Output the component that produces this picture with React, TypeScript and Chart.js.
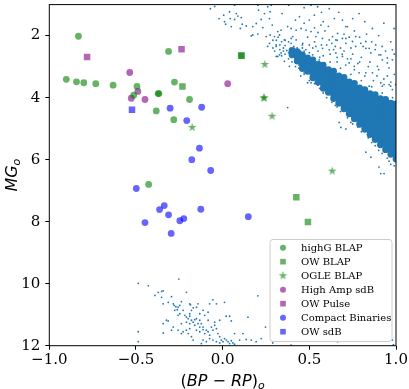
import React, { useEffect, useRef } from "react";
import { Chart, registerables } from "chart.js";
Chart.register(...registerables);

// ---- axes ----
const xTicks = [-1, -0.5, 0, 0.5, 1];
const yTicks = [2, 4, 6, 8, 10, 12];
const xRange = [-1, 1];
const yRange = [1, 12];

// ---- labelled samples ----
const seriesLabels = ["highG BLAP", "OW BLAP", "OGLE BLAP", "High Amp sdB", "OW Pulse", "Compact Binaries", "OW sdB"];

const highGBlapX = [-0.832, -0.902, -0.843, -0.801, -0.732, -0.632, -0.494, -0.513, -0.372, -0.368, -0.383, -0.312, -0.278, -0.282, -0.191, -0.427];
const highGBlapY = [2.02, 3.41, 3.49, 3.52, 3.55, 3.60, 3.64, 3.92, 3.87, 3.87, 4.43, 2.51, 3.50, 4.71, 4.06, 6.80];

const owBlapX = [-0.232, 0.107, 0.109, 0.425, 0.492];
const owBlapY = [3.64, 2.64, 2.65, 7.21, 8.01];

const ogleBlapX = [-0.176, 0.243, 0.238, 0.239, 0.285, 0.632];
const ogleBlapY = [4.96, 2.93, 4.01, 4.01, 4.60, 6.37];

const highAmpX = [-0.536, -0.527, -0.489, -0.448, 0.029];
const highAmpY = [3.19, 4.02, 3.80, 4.06, 3.55];

const owPulseX = [-0.782, -0.237];
const owPulseY = [2.69, 2.44];

const compactX = [-0.303, -0.207, -0.121, -0.134, -0.178, -0.498, -0.069, -0.448, -0.364, -0.337, -0.312, -0.297, -0.247, -0.224, -0.126, 0.148];
const compactY = [4.34, 4.74, 4.31, 5.63, 6.00, 6.93, 6.35, 8.03, 7.61, 7.48, 7.78, 8.38, 7.97, 7.90, 7.60, 7.84];

const owSdbX = [-0.523];
const owSdbY = [4.39];

// ---- Gaia background: dense main-sequence core (columns) ----
const msCoreCols: [number, number[]][] = [
  [0.40, [2.48, 2.62]],
  [0.43, [2.52, 2.68, 2.82]],
  [0.46, [2.62, 2.77, 2.92, 3.06]],
  [0.49, [2.72, 2.87, 3.02, 3.15]],
  [0.52, [2.78, 2.93, 3.08, 3.23, 3.36]],
  [0.55, [2.92, 3.07, 3.22, 3.37, 3.50]],
  [0.58, [2.95, 3.10, 3.25, 3.40, 3.55, 3.70]],
  [0.61, [3.10, 3.25, 3.40, 3.55, 3.70, 3.83]],
  [0.64, [3.15, 3.30, 3.45, 3.60, 3.75, 3.90, 4.03]],
  [0.67, [3.30, 3.45, 3.60, 3.75, 3.90, 4.05, 4.18]],
  [0.70, [3.35, 3.50, 3.65, 3.80, 3.95, 4.10, 4.25, 4.36]],
  [0.73, [3.49, 3.64, 3.79, 3.94, 4.09, 4.24, 4.39, 4.52]],
  [0.76, [3.54, 3.69, 3.84, 3.99, 4.14, 4.29, 4.44, 4.59, 4.68]],
  [0.79, [3.69, 3.84, 3.99, 4.14, 4.29, 4.44, 4.59, 4.74, 4.86]],
  [0.82, [3.74, 3.89, 4.04, 4.19, 4.34, 4.49, 4.64, 4.79, 4.94, 5.02]],
  [0.85, [3.87, 4.02, 4.17, 4.32, 4.47, 4.62, 4.77, 4.92, 5.07, 5.19]],
  [0.88, [3.90, 4.05, 4.20, 4.35, 4.50, 4.65, 4.80, 4.95, 5.10, 5.25, 5.35]],
  [0.91, [4.03, 4.18, 4.33, 4.48, 4.63, 4.78, 4.93, 5.08, 5.23, 5.38, 5.52]],
  [0.94, [4.06, 4.21, 4.36, 4.51, 4.66, 4.81, 4.96, 5.11, 5.26, 5.41, 5.56, 5.68]],
  [0.97, [4.18, 4.33, 4.48, 4.63, 4.78, 4.93, 5.08, 5.23, 5.38, 5.53, 5.68, 5.83]],
  [1.00, [4.20, 4.35, 4.50, 4.65, 4.80, 4.95, 5.10, 5.25, 5.40, 5.55, 5.70, 5.85, 5.98]],
];

// ---- Gaia background: sparse main-sequence stars ----
const msField: [number, number][] = [
  [-0.071, 1.13], [-0.046, 1.06], [-0.021, 1.45], [0.006, 1.34], [0.011, 1.55], [0.017, 1.63], [0.04, 1.23], [0.044, 1.45],
  [0.05, 1.71], [0.069, 1.48], [0.079, 1.29], [0.088, 1.37], [0.107, 1.42], [0.113, 1.63], [0.102, 1.77], [0.136, 1.69],
  [0.165, 2.01], [0.174, 1.71], [0.194, 1.61], [0.203, 1.02], [0.203, 1.95], [0.222, 1.48], [0.232, 1.74], [0.241, 1.29],
  [0.26, 1.07], [0.274, 1.23], [0.27, 1.45], [0.286, 1.66], [0.274, 1.98], [0.299, 2.03], [0.318, 1.87], [0.337, 1.82],
  [0.343, 1.29], [0.356, 2.14], [0.375, 1.71], [0.381, 1.02], [0.395, 2.25], [0.404, 2.03], [0.414, 2.46], [0.337, 2.56],
  [0.309, 2.35], [0.27, 2.25], [0.318, 2.67], [0.328, 1.98],
  [0.395, 1.77], [0.424, 1.82], [0.452, 1.77], [0.481, 1.82], [0.51, 1.87], [0.538, 2.03], [0.567, 1.66], [0.576, 2.09],
  [0.615, 2.14], [0.634, 2.03], [0.663, 1.93], [0.691, 2.09], [0.72, 1.71], [0.711, 2.25], [0.749, 2.19], [0.768, 2.35],
  [0.797, 2.25], [0.826, 2.41], [0.864, 1.77], [0.855, 2.56], [0.883, 2.30], [0.902, 2.62], [0.921, 2.78], [0.95, 2.72],
  [0.979, 2.78], [0.96, 3.04], [0.893, 2.99], [0.864, 3.2], [0.826, 3.2], [0.787, 3.2], [0.759, 2.99], [0.73, 2.88],
  [0.691, 2.67], [0.653, 2.56], [0.615, 2.46], [0.576, 2.41], [0.538, 2.35], [0.5, 2.3], [0.462, 2.25], [0.424, 2.14],
  [0.395, 2.09], [0.404, 2.56], [0.443, 2.67], [0.481, 2.78], [0.414, 2.41], [0.519, 2.62], [0.557, 2.78], [0.845, 3.63],
  [0.921, 3.63], [0.96, 3.58], [0.979, 3.74], [0.883, 4.11], [0.941, 4.37], [0.96, 4.59], [0.979, 4.8], [0.672, 4.8],
  [0.711, 5.01], [0.644, 4.06], [0.576, 3.74], [0.51, 3.52],
  [0.375, 4.32], [0.682, 4.96], [0.826, 5.76], [0.855, 5.92], [0.902, 6.24], [0.931, 6.45], [0.912, 6.45], [0.826, 2.19],
  [0.845, 2.41], [0.912, 2.62], [0.95, 2.88], [0.979, 2.46], [0.989, 1.77], [0.768, 2.03], [0.711, 2.09], [0.653, 2.14],
  [0.787, 1.29], [0.691, 1.5], [0.644, 1.45], [0.615, 1.13], [0.548, 1.07], [0.51, 1.02], [0.443, 1.39], [0.529, 1.34],
  [0.58, 1.55], [0.711, 1.71], [0.998, 3.58], [0.969, 3.63], [0.931, 3.58], [0.912, 3.52], [0.28, 1.02], [0.069, 1.02],
  [0.207, 1.18], [0.251, 2.03], [0.174, 1.98], [0.26, 2.35], [0.309, 2.30], [0.328, 2.62], [0.356, 2.83], [0.385, 2.99],
  [0.309, 2.67], [0.49, 3.52],
  [0.45, 3.3], [0.5, 3.45], [0.56, 3.7], [0.6, 4.0], [0.66, 4.3], [0.72, 4.65], [0.78, 4.95], [0.84, 5.3], [0.9, 5.7],
  [0.96, 6.05], [0.99, 6.2], [0.5, 2.55], [0.56, 2.7], [0.62, 2.85], [0.68, 3.05], [0.74, 3.25], [0.8, 3.45], [0.86, 3.65],
  [0.92, 3.85], [0.98, 4.0], [0.35, 2.4], [0.38, 2.55], [0.4, 2.7], [0.42, 2.85], [0.44, 2.95], [0.36, 2.6], [0.41, 2.35],
  [0.43, 2.6], [0.45, 2.5], [0.33, 2.3], [0.38, 2.2], [0.46, 2.4], [0.39, 2.45], [0.6, 2.3], [0.65, 2.35], [0.7, 2.5],
  [0.75, 2.6], [0.8, 2.7], [0.85, 2.85], [0.9, 3.1], [0.95, 3.3], [0.72, 2.75], [0.78, 2.9], [0.66, 2.7], [0.62, 2.6],
  [0.55, 2.5], [0.58, 2.65], [0.52, 2.4],
  [0.31, 2.15], [0.34, 2.2], [0.36, 2.32], [0.37, 2.48], [0.39, 2.62], [0.41, 2.55], [0.42, 2.72], [0.44, 2.8],
  [0.43, 2.4], [0.45, 2.65], [0.47, 2.5], [0.46, 2.3], [0.48, 2.45], [0.35, 2.5], [0.33, 2.45], [0.40, 2.85],
  [0.38, 2.75], [0.44, 3.05], [0.42, 3.0], [0.47, 3.2], [0.36, 2.15], [0.32, 2.05], [0.29, 2.15], [0.29, 2.4],
  [0.3, 2.5], [0.34, 2.65],
  [0.47, 1.6], [0.5, 1.5], [0.53, 1.75], [0.55, 1.9], [0.59, 1.85], [0.61, 1.7], [0.63, 2.25], [0.66, 2.15],
  [0.68, 2.4], [0.7, 1.95], [0.73, 2.05], [0.74, 2.4], [0.76, 1.85], [0.79, 2.05], [0.81, 2.35], [0.83, 1.95],
  [0.86, 2.2], [0.88, 2.45], [0.9, 2.0], [0.92, 2.35], [0.94, 2.5], [0.97, 2.2], [0.99, 2.6], [0.93, 1.6],
  [0.82, 1.55], [0.75, 1.45], [0.67, 1.25], [0.57, 1.25], [0.47, 1.1], [0.42, 1.5], [0.49, 2.05], [0.53, 2.2],
  [0.57, 2.3], [0.64, 2.45], [0.69, 2.6], [0.74, 2.75], [0.79, 2.85], [0.84, 3.0], [0.89, 3.3], [0.93, 3.4],
  [0.97, 3.5], [0.99, 3.25], [0.87, 3.45], [0.82, 3.3], [0.76, 3.1], [0.71, 2.95], [0.66, 2.85],
  [0.47, 3.25], [0.53, 3.55], [0.58, 3.85], [0.63, 4.15], [0.68, 4.45], [0.74, 4.8], [0.8, 5.1], [0.86, 5.45],
  [0.92, 5.8], [0.97, 6.15], [0.55, 3.6], [0.65, 4.25], [0.75, 4.85], [0.88, 5.55], [0.95, 5.95],
];

// ---- Gaia background: white-dwarf sequence ----
const wdField: [number, number][] = [
  [-0.487, 9.99], [-0.429, 10.07], [-0.253, 9.85], [-0.391, 10.38], [-0.372, 10.28], [-0.352, 10.25], [-0.343, 10.23],
  [-0.352, 10.44], [-0.343, 10.65], [-0.314, 10.60], [-0.295, 10.42], [-0.285, 10.65], [-0.280, 10.70], [-0.270, 10.74],
  [-0.257, 10.76], [-0.276, 10.86], [-0.262, 10.84], [-0.247, 10.70], [-0.238, 10.58], [-0.209, 10.28], [-0.190, 10.65],
  [-0.170, 10.78], [-0.180, 10.86], [-0.228, 10.86], [-0.247, 10.97], [-0.257, 11.02], [-0.218, 11.02], [-0.209, 11.08],
  [-0.199, 11.13], [-0.190, 11.05], [-0.180, 11.18], [-0.161, 11.16], [-0.151, 11.13], [-0.132, 11.18], [-0.142, 11.29],
  [-0.170, 11.24], [-0.123, 11.29], [-0.113, 11.40], [-0.132, 11.40], [-0.161, 11.34], [-0.190, 11.29], [-0.209, 11.24],
  [-0.324, 11.18], [-0.314, 11.20], [-0.343, 11.29], [-0.285, 11.40], [-0.257, 11.50], [-0.238, 11.61], [-0.228, 11.55],
  [-0.209, 11.50], [-0.190, 11.45], [-0.199, 11.61], [-0.180, 11.71], [-0.170, 11.82], [-0.151, 11.50], [-0.132, 11.55],
  [-0.113, 11.48], [-0.103, 11.61], [-0.094, 11.50], [-0.084, 11.55], [-0.075, 11.66], [-0.065, 11.40], [-0.056, 11.50],
  [-0.046, 11.34], [-0.036, 11.45], [-0.027, 11.61], [-0.017, 11.71], [-0.008, 11.82], [0.002, 11.87], [0.011, 11.77],
  [0.021, 11.82], [0.031, 11.87], [0.040, 11.93], [0.050, 11.84], [0.059, 11.91], [0.069, 11.95], [-0.017, 11.91],
  [-0.036, 11.87], [-0.056, 11.82], [-0.075, 11.77], [-0.094, 11.87], [-0.113, 11.82], [-0.123, 11.93], [-0.075, 10.65],
  [-0.056, 10.52], [-0.036, 10.65], [0.011, 10.60], [0.040, 11.05], [0.050, 11.20], [0.146, 11.08], [0.203, 10.39],
  [0.117, 11.61], [0.069, 11.61], [0.098, 11.82], [0.136, 11.80], [0.165, 11.82], [0.193, 11.87], [0.222, 11.77],
  [0.247, 11.40], [0.289, 11.91], [-0.487, 11.55], [-0.343, 11.59], [-0.295, 11.50], [-0.238, 11.29], [-0.084, 11.18],
  [-0.046, 11.24], [-0.017, 11.18], [-0.113, 10.86], [-0.151, 10.76], [-0.084, 10.92], [-0.132, 10.97], [-0.103, 11.02],
  [-0.190, 10.97], [-0.142, 10.65], [-0.186, 10.68], [0.395, 11.98], [0.663, 11.87], [0.979, 11.82], [0.985, 11.97],
  [-0.487, 11.87], [0.02, 11.05],
];

const GREEN = "rgba(0,128,0,0.6)";
const PURPLE = "rgba(128,0,128,0.6)";
const BLUE = "rgba(0,0,255,0.6)";
const GAIA = "#1f77b4";

function zip(xs: number[], ys: number[]) {
  return xs.map((x, i) => ({ x, y: ys[i] }));
}

function makeStar(size: number, outer: number, color: string) {
  const c = document.createElement("canvas");
  c.width = size;
  c.height = size;
  const g = c.getContext("2d")!;
  const cx = size / 2, cy = size / 2, inner = outer * 0.382;
  g.beginPath();
  for (let i = 0; i < 10; i++) {
    const r = i % 2 === 0 ? outer : inner;
    const a = -Math.PI / 2 + (i * Math.PI) / 5;
    const px = cx + r * Math.cos(a), py = cy + r * Math.sin(a);
    if (i === 0) g.moveTo(px, py); else g.lineTo(px, py);
  }
  g.closePath();
  g.fillStyle = color;
  g.fill();
  return c;
}

type Part = { t: string; f: string; dy?: number };
function drawParts(ctx: CanvasRenderingContext2D, parts: Part[], cx: number, baseY: number) {
  let total = 0;
  for (const p of parts) { ctx.font = p.f; total += ctx.measureText(p.t).width; }
  let x = cx - total / 2;
  ctx.textBaseline = "alphabetic";
  ctx.textAlign = "left";
  for (const p of parts) {
    ctx.font = p.f;
    ctx.fillText(p.t, x, baseY + (p.dy || 0));
    x += ctx.measureText(p.t).width;
  }
}

const SANS = '"DejaVu Sans"';
const xTitle: Part[] = [
  { t: "(", f: `16px ${SANS}` },
  { t: "BP", f: `italic 16px ${SANS}` },
  { t: " \u2212 ", f: `16px ${SANS}` },
  { t: "RP", f: `italic 16px ${SANS}` },
  { t: ")", f: `16px ${SANS}` },
  { t: "o", f: `italic 11px ${SANS}`, dy: 3.5 },
];
const yTitle: Part[] = [
  { t: "MG", f: `italic 16px ${SANS}` },
  { t: "o", f: `italic 11px ${SANS}`, dy: 3.5 },
];

export default function App() {
  const ref = useRef<HTMLCanvasElement | null>(null);
  useEffect(() => {
    if (!ref.current) return;
    const star = makeStar(11, 4.6, GREEN);
    const coreData: { x: number; y: number }[] = [];
    msCoreCols.forEach(([x, ys]) => ys.forEach((y) => coreData.push({ x, y })));
    const fieldData = msField.concat(wdField).map(([x, y]) => ({ x, y }));

    const marker = (label: string, data: any[], style: any, color: string, radius: number) => ({
      label, data, pointStyle: style, backgroundColor: color, borderColor: color, borderWidth: 0,
      pointRadius: radius, pointHoverRadius: radius, showLine: false, order: 1,
    });

    const datasets: any[] = [
      marker(seriesLabels[0], zip(highGBlapX, highGBlapY), "circle", GREEN, 3.4),
      marker(seriesLabels[1], zip(owBlapX, owBlapY), "rect", GREEN, 4.6),
      marker(seriesLabels[2], zip(ogleBlapX, ogleBlapY), star, GREEN, 4),
      marker(seriesLabels[3], zip(highAmpX, highAmpY), "circle", PURPLE, 3.4),
      marker(seriesLabels[4], zip(owPulseX, owPulseY), "rect", PURPLE, 4.6),
      marker(seriesLabels[5], zip(compactX, compactY), "circle", BLUE, 3.4),
      marker(seriesLabels[6], zip(owSdbX, owSdbY), "rect", BLUE, 4.6),
      { label: "Gaia core", data: coreData, pointStyle: "circle", backgroundColor: GAIA, borderWidth: 0, pointRadius: 3.4, order: 10 },
      { label: "Gaia field", data: fieldData, pointStyle: "circle", backgroundColor: GAIA, borderWidth: 0, pointRadius: 0.9, order: 11 },
    ];

    const decor = {
      id: "decor",
      afterDraw(chart: any) {
        const { ctx, chartArea: a } = chart;
        ctx.save();
        ctx.strokeStyle = "#000";
        ctx.lineWidth = 1;
        ctx.strokeRect(a.left, a.top, a.right - a.left, a.bottom - a.top);
        ctx.fillStyle = "#000";
        drawParts(ctx, xTitle, (a.left + a.right) / 2, 385.5);
        ctx.save();
        ctx.translate(16.5, (a.top + a.bottom) / 2);
        ctx.rotate(-Math.PI / 2);
        drawParts(ctx, yTitle, 0, 0);
        ctx.restore();

        // legend
        const lx = 270, ly = 239.5, lw = 122, lh = 102;
        ctx.beginPath();
        ctx.roundRect(lx, ly, lw, lh, 3);
        ctx.fillStyle = "rgba(255,255,255,0.8)";
        ctx.fill();
        ctx.strokeStyle = "#cccccc";
        ctx.lineWidth = 1;
        ctx.stroke();
        ctx.font = '10px "DejaVu Serif"';
        ctx.textBaseline = "middle";
        ctx.textAlign = "left";
        for (let i = 0; i < seriesLabels.length; i++) {
          const ds = chart.data.datasets[i];
          const y = 247.7 + i * 14;
          const mx = 283;
          ctx.fillStyle = ds.backgroundColor;
          const st = ds.pointStyle;
          if (st === "circle") {
            ctx.beginPath(); ctx.arc(mx, y, 3, 0, Math.PI * 2); ctx.fill();
          } else if (st === "rect") {
            ctx.fillRect(mx - 2.8, y - 2.8, 5.6, 5.6);
          } else {
            ctx.drawImage(st, mx - st.width / 2, y - st.height / 2);
          }
          ctx.fillStyle = "#000";
          ctx.fillText(ds.label, 301, y + 0.5);
        }
        ctx.restore();
      },
    };

    const noPad = (s: any) => { s.paddingTop = 0; s.paddingBottom = 0; s.paddingLeft = 0; s.paddingRight = 0; };
    const tickFont = { family: "DejaVu Serif", size: 15 };
    const chart = new Chart(ref.current, {
      type: "scatter",
      data: { datasets },
      plugins: [decor],
      options: {
        animation: false,
        responsive: false,
        maintainAspectRatio: false,
        events: [],
        layout: { padding: { left: 0, right: 13, top: 1.5, bottom: 0 } },
        plugins: { legend: { display: false }, tooltip: { enabled: false } },
        scales: {
          x: {
            type: "linear",
            min: xRange[0],
            max: xRange[1],
            afterBuildTicks: (s: any) => { s.ticks = xTicks.map((v) => ({ value: v })); },
            afterFit: (s: any) => { s.height = 43.3; noPad(s); },
            border: { display: false },
            grid: { drawOnChartArea: false, drawTicks: true, tickLength: 4, color: "#000", lineWidth: 1 },
            ticks: {
              font: tickFont, color: "#000", padding: 1, maxRotation: 0, autoSkip: false,
              callback: (v: any) => Number(v).toFixed(1).replace("-", "\u2212"),
            },
          },
          y: {
            type: "linear",
            reverse: true,
            min: yRange[0],
            max: yRange[1],
            afterBuildTicks: (s: any) => { s.ticks = yTicks.map((v) => ({ value: v })); },
            afterFit: (s: any) => { s.width = 49.3; noPad(s); },
            border: { display: false },
            grid: { drawOnChartArea: false, drawTicks: true, tickLength: 4, color: "#000", lineWidth: 1 },
            ticks: { font: tickFont, color: "#000", padding: 5, autoSkip: false, callback: (v: any) => String(v) },
          },
        },
      },
    } as any);
    return () => chart.destroy();
  }, []);

  return (
    <div style={{ position: "fixed", left: 0, top: 0, width: 409, height: 389, background: "#fff" }}>
      <canvas ref={ref} width={409} height={389} style={{ width: 409, height: 389, display: "block" }} />
    </div>
  );
}
